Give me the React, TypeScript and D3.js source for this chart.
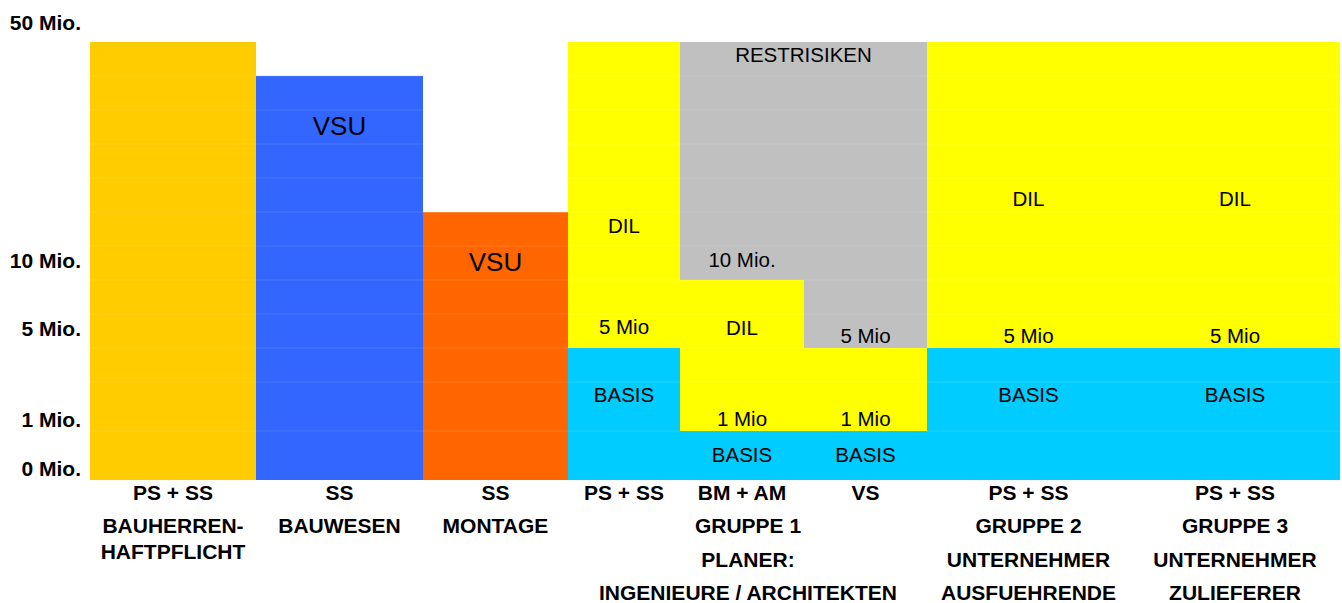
import React from "react";
import * as d3 from "d3";

// ---------- DATA ----------
const categoryLines: string[][] = [
  ["PS + SS", "BAUHERREN-\nHAFTPFLICHT"],
  ["SS", "BAUWESEN"],
  ["SS", "MONTAGE"],
  ["PS + SS"],
  ["BM + AM", "GRUPPE 1", "PLANER:", "INGENIEURE / ARCHITEKTEN"],
  ["VS"],
  ["PS + SS", "GRUPPE 2", "UNTERNEHMER", "AUSFUEHRENDE"],
  ["PS + SS", "GRUPPE 3", "UNTERNEHMER", "ZULIEFERER"],
];
// relative column widths
const columnWeights = [166, 167, 145, 112, 124, 123, 203, 210];

const seriesKeys = ["bauherren", "bauwesen", "montage", "basis", "dil", "rest"];
const bauherren = [50, 0, 0, 0, 0, 0, 0, 0];
const bauwesen = [0, 44.3, 0, 0, 0, 0, 0, 0];
const montage = [0, 0, 21.4, 0, 0, 0, 0, 0];
const basis = [0, 0, 0, 5, 1, 1, 5, 5];
const dil = [0, 0, 0, 45, 9, 4, 45, 45];
const rest = [0, 0, 0, 0, 40, 45, 0, 0];
const seriesColors: Record<string, string> = {
  bauherren: "#FFCC00",
  bauwesen: "#3366FF",
  montage: "#FF6600",
  basis: "#00CCFF",
  dil: "#FFFF00",
  rest: "#C0C0C0",
};

const yTickValues = [0, 1, 5, 10, 50];
const yTickLabels = ["0 Mio.", "1 Mio.", "5 Mio.", "10 Mio.", "50 Mio."];

// in-bar labels: column span, text, value (vertical centre), font size
const barLabels: { from: number; to: number; text: string; value: number; size: number }[] = [
  { from: 1, to: 1, text: "VSU", value: 36.0, size: 26 },
  { from: 2, to: 2, text: "VSU", value: 13.1, size: 26 },
  { from: 3, to: 3, text: "DIL", value: 19.2, size: 20.5 },
  { from: 3, to: 3, text: "5 Mio", value: 6.54, size: 20.5 },
  { from: 3, to: 3, text: "BASIS", value: 2.76, size: 20.5 },
  { from: 4, to: 5, text: "RESTRISIKEN", value: 47.8, size: 20.5 },
  { from: 4, to: 4, text: "10 Mio.", value: 13.5, size: 20.5 },
  { from: 4, to: 4, text: "DIL", value: 6.5, size: 20.5 },
  { from: 4, to: 4, text: "1 Mio", value: 1.58, size: 20.5 },
  { from: 4, to: 4, text: "BASIS", value: 0.51, size: 20.5 },
  { from: 5, to: 5, text: "5 Mio", value: 5.88, size: 20.5 },
  { from: 5, to: 5, text: "1 Mio", value: 1.58, size: 20.5 },
  { from: 5, to: 5, text: "BASIS", value: 0.51, size: 20.5 },
  { from: 6, to: 6, text: "DIL", value: 23.6, size: 20.5 },
  { from: 6, to: 6, text: "5 Mio", value: 5.88, size: 20.5 },
  { from: 6, to: 6, text: "BASIS", value: 2.76, size: 20.5 },
  { from: 7, to: 7, text: "DIL", value: 23.6, size: 20.5 },
  { from: 7, to: 7, text: "5 Mio", value: 5.88, size: 20.5 },
  { from: 7, to: 7, text: "BASIS", value: 2.76, size: 20.5 },
];

// ---------- LAYOUT ----------
const W = 1342;
const H = 603;
const plotLeft = 90;
const plotRight = 1340;
const FONT = "'Liberation Sans', Arial, Helvetica, sans-serif";

export default function App() {
  const y = d3
    .scaleLinear()
    .domain([0, 1, 5, 10, 50])
    .range([480, 431, 348, 280, 42]);

  const cum = [0, ...d3.cumsum(columnWeights)];
  const xs = d3
    .scaleLinear()
    .domain([0, cum[cum.length - 1]])
    .range([plotLeft, plotRight]);
  const colX0 = (i: number) => xs(cum[i]);
  const colX1 = (i: number) => xs(cum[i + 1]);
  const colC = (i: number) => (colX0(i) + colX1(i)) / 2;

  const table = categoryLines.map((_, i) => ({
    idx: i,
    bauherren: bauherren[i],
    bauwesen: bauwesen[i],
    montage: montage[i],
    basis: basis[i],
    dil: dil[i],
    rest: rest[i],
  }));
  const stacked = d3.stack<any>().keys(seriesKeys)(table);

  // faint grid lines
  const step = (y(5) - y(50)) / 9;
  const gridYs = d3.range(1, 11).map((k) => y(50) + k * step).concat([y(1)]);

  return (
    <svg
      width={W}
      height={H}
      style={{ position: "absolute", left: 0, top: 0, background: "#fff" }}
      fontFamily={FONT}
    >
      {stacked.map((s) => (
        <g key={s.key} fill={seriesColors[s.key]}>
          {s.map((d, i) =>
            d[1] - d[0] > 0 ? (
              <rect
                key={i}
                x={colX0(i)}
                width={colX1(i) - colX0(i)}
                y={y(d[1])}
                height={y(d[0]) - y(d[1])}
              />
            ) : null
          )}
        </g>
      ))}

      {gridYs.map((gy, i) => (
        <line
          key={i}
          x1={plotLeft}
          x2={plotRight}
          y1={gy}
          y2={gy}
          stroke="#fff"
          strokeOpacity={0.12}
          strokeWidth={1}
        />
      ))}

      {barLabels.map((l, i) => (
        <text
          key={i}
          x={(colX0(l.from) + colX1(l.to)) / 2}
          y={y(l.value)}
          dy="0.36em"
          textAnchor="middle"
          fontSize={l.size}
          fill="#000"
        >
          {l.text}
        </text>
      ))}

      {yTickValues.map((v, i) => (
        <text
          key={i}
          x={81}
          y={y(v) - (v >= 5 ? 20 : 12)}
          dy="0.36em"
          textAnchor="end"
          fontSize={21}
          fontWeight="bold"
          fill="#000"
        >
          {yTickLabels[i]}
        </text>
      ))}

      {categoryLines.map((lines, i) => {
        const out: React.ReactNode[] = [];
        lines.forEach((row, r) => {
          const parts = row.split("\n");
          const cx = r > 0 && i === 4 ? colC(i) + 6 : colC(i);
          parts.forEach((p, k) => {
            out.push(
              <text
                key={`${r}-${k}`}
                x={cx}
                y={500 + r * 33.3 + k * 25.5}
                textAnchor="middle"
                fontSize={21}
                fontWeight="bold"
                fill="#000"
              >
                {p}
              </text>
            );
          });
        });
        return <g key={i}>{out}</g>;
      })}
    </svg>
  );
}
